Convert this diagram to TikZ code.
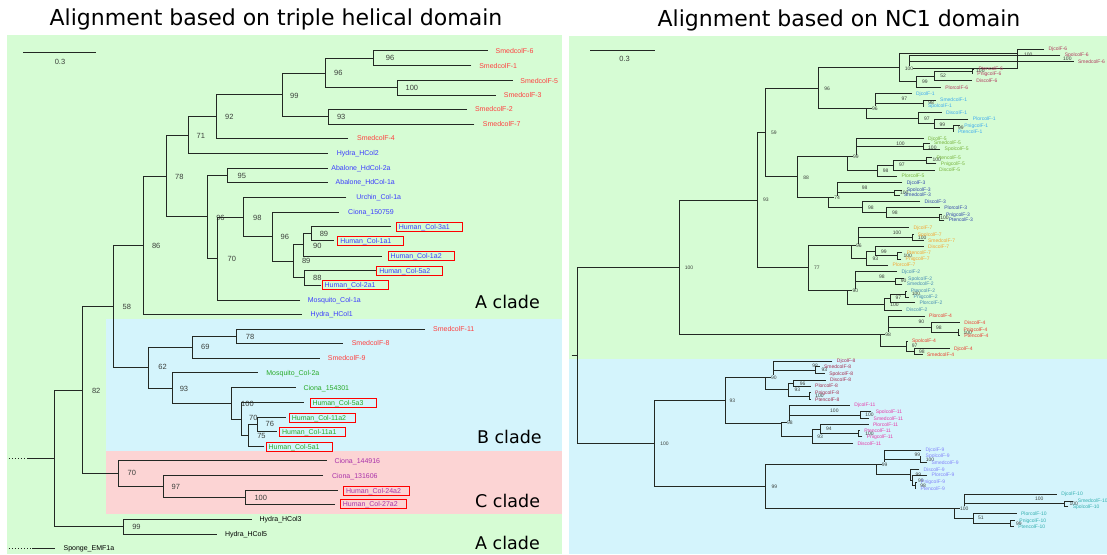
\documentclass[tikz,border=0pt]{standalone}
\usepackage{fontspec}
\setmainfont{Liberation Sans}
\newfontfamily\ttlfont{DejaVu Sans}
\definecolor{bggreen}{RGB}{214,252,212}
\definecolor{bgblue}{RGB}{212,244,252}
\definecolor{bgpink}{RGB}{252,212,212}
\definecolor{lred}{RGB}{255,64,64}
\definecolor{lblue}{RGB}{60,60,255}
\definecolor{lgreen}{RGB}{40,170,40}
\definecolor{lpurple}{RGB}{170,50,170}
\definecolor{brc}{RGB}{35,40,35}
\definecolor{bsc}{RGB}{60,64,60}
\definecolor{cmar}{RGB}{178,60,95}
\definecolor{cA}{RGB}{60,170,240}
\definecolor{cB}{RGB}{120,180,60}
\definecolor{cC}{RGB}{50,70,170}
\definecolor{cD}{RGB}{245,165,50}
\definecolor{cE}{RGB}{70,140,180}
\definecolor{cF}{RGB}{235,60,50}
\definecolor{cG}{RGB}{165,45,80}
\definecolor{cH}{RGB}{230,60,170}
\definecolor{cI}{RGB}{130,130,250}
\definecolor{cJ}{RGB}{50,175,175}
\tikzset{
 br/.style={draw=brc,line width=1pt},
 rbr/.style={draw=brc,line width=0.8pt},
 ll/.style={anchor=west,inner xsep=0pt,inner ysep=0.5pt,font=\fontsize{7}{8}\selectfont,text height=5pt,text depth=0pt},
 hb/.style={draw=red,line width=0.9pt,inner xsep=2.5pt,text width=61pt,align=left,minimum height=9pt},
 bs/.style={anchor=west,inner sep=0pt,font=\fontsize{7.5}{8}\selectfont,text=bsc,text height=5.2pt,text depth=0pt},
 rl/.style={anchor=west,inner xsep=0pt,outer xsep=4.5pt,inner ysep=0.3pt,font=\fontsize{5}{6}\selectfont,text height=3.6pt,text depth=0pt},
 rbs/.style={anchor=west,inner sep=0pt,font=\fontsize{5}{6}\selectfont,text=bsc,text height=3.6pt,text depth=0pt},
 clade/.style={anchor=base west,font=\ttlfont\fontsize{17.5}{20}\selectfont,inner sep=0pt},
 ttl/.style={anchor=base,font=\ttlfont\fontsize{22}{26}\selectfont,inner sep=0pt},
 sbl/.style={inner sep=0pt,font=\fontsize{7.5}{8}\selectfont,text=bsc},
 dotline/.style={draw=brc,line width=1pt,dash pattern=on 1pt off 2pt},
}
\newcommand\myINL[5]{\coordinate (#1) at (#2,#3); \node[bs] (#1b) at (#4) {#5};}
\newcommand\myINR[5]{\coordinate (#1) at (#2,#3); \node[rbs] (#1b) at (#4) {#5};}
\newcommand\myE[2]{\draw[br] (#1) -| (#2);}
\newcommand\myER[2]{\draw[rbr] (#1) -| (#2);}
\newcommand\myLL[6]{\node[ll,outer xsep=#4pt,#5] (#1) at (#2) {#3}; \draw[br] (#1.west) -| (#6);}
\newcommand\myRL[6]{\node[rl,text=#5] (#1) at ({#2-4.5},#3) {#4}; \draw[rbr] (#1.west) -| (#6);}
\begin{document}
\begin{tikzpicture}[x=1pt,y=-1pt]
\useasboundingbox (0,0) rectangle (1107,554);
% backgrounds
\fill[bggreen] (7,35) rectangle (562,554);
\fill[bgblue] (106,319.3) rectangle (562,451);
\fill[bgpink] (106,451) rectangle (562,514.3);
\fill[bggreen] (569,36) rectangle (1107,359);
\fill[bgblue] (569,359) rectangle (1107,554);
% titles
\node[ttl] (t1) at (276,25) {Alignment based on triple helical domain};
\node[ttl] (t2) at (839,26.5) {Alignment based on NC1 domain};
% scale bars
\coordinate (sb1a) at (23.2,52); \coordinate (sb1b) at (96.4,52);
\draw[br] (sb1a) -- (sb1b); \node[sbl] (sb1t) at (60,62) {0.3};
\coordinate (sb2a) at (590,50.7); \coordinate (sb2b) at (655.4,50.7);
\draw[br] (sb2a) -- (sb2b); \node[sbl] (sb2t) at (624.6,59) {0.3};
% clade labels
\node[clade] (ca1) at (475,308.3) {A clade};
\node[clade] (cb) at (476.8,443) {B clade};
\node[clade] (cc) at (475,507.7) {C clade};
\node[clade] (ca2) at (475,549.3) {A clade};
% ---------------- left tree internal nodes
\myINL{a96a}{373.2}{58.2}{385.7,58.3}{96}
\myINL{a100}{397.1}{87.85}{405.4,87.7}{100}
\myINL{a96b}{325.7}{73.0}{334,73.3}{96}
\myINL{a93}{328.6}{116.8}{336.8,116.7}{93}
\myINL{a99}{282.1}{94.9}{290,95.7}{99}
\myINL{a92}{216.8}{116.65}{225,116.7}{92}
\myINL{a71}{188.2}{135.5}{196.4,136}{71}
\myINL{a95}{227.9}{175.3}{237.5,175.7}{95}
\myINL{a89u}{311.8}{233.5}{319.6,234.3}{89}
\myINL{a90}{303.6}{244.75}{312.9,245.7}{90}
\myINL{a88}{304.3}{277.65}{312.9,278.3}{88}
\myINL{a89l}{293.6}{261.2}{301.8,261}{89}
\myINL{a96c}{272.1}{236.75}{280.4,236.7}{96}
\myINL{a98}{243.9}{217}{252.9,217.7}{98}
\myINL{a70}{217.9}{258.5}{227.5,259}{70}
\myINL{a96d}{207.9}{216.9}{216.1,217.7}{96}
\myINL{a78}{166.8}{176.2}{175,176.7}{78}
\myINL{a86}{143.6}{245.25}{151.8,245.7}{86}
\myINL{b78}{236.8}{336.15}{245.7,336.7}{78}
\myINL{b69}{192.9}{347.2}{201,347.3}{69}
\myINL{b76}{257.1}{424.6}{265.4,424.3}{76}
\myINL{b75}{248.2}{435.55}{257.1,435.7}{75}
\myINL{b70}{241.8}{419}{248.9,418.3}{70}
\myINL{b100}{231.4}{403.35}{241,404}{100}
\myINL{b93}{172.1}{388}{179.6,389}{93}
\myINL{b62}{148.9}{367.6}{158.2,367.3}{62}
\myINL{a58}{113.2}{306.4}{122.5,306.7}{58}
\myINL{c100}{245.7}{497.25}{254.3,497.7}{100}
\myINL{c97}{163.2}{486.5}{171.4,486.7}{97}
\myINL{c70}{118.9}{473.6}{127.5,473.3}{70}
\myINL{a82}{82.9}{390}{91.8,390.7}{82}
\myINL{d99}{123.9}{526.65}{132.1,526.7}{99}
\coordinate (rootL) at (54.6,458.3);
% left internal edges
\myE{a96a}{a96b} \myE{a100}{a96b} \myE{a96b}{a99} \myE{a93}{a99}
\myE{a99}{a92} \myE{a92}{a71} \myE{a71}{a78} \myE{a95}{a96d}
\myE{a89u}{a90} \myE{a90}{a89l} \myE{a88}{a89l} \myE{a89l}{a96c}
\myE{a96c}{a98} \myE{a98}{a70} \myE{a70}{a96d} \myE{a96d}{a78}
\myE{a78}{a86} \myE{a86}{a58} \myE{b78}{b69} \myE{b69}{b62}
\myE{b76}{b75} \myE{b75}{b70} \myE{b70}{b100} \myE{b100}{b93}
\myE{b93}{b62} \myE{b62}{a58} \myE{a58}{a82} \myE{c100}{c97}
\myE{c97}{c70} \myE{c70}{a82} \myE{a82}{rootL} \myE{d99}{rootL}
% left leaves
\myLL{s6}{487.5,50.7}{SmedcolF-6}{8.2}{text=lred}{a96a}
\myLL{s1}{471.4,65.7}{SmedcolF-1}{7.9}{text=lred}{a96a}
\myLL{s5}{512.5,80.7}{SmedcolF-5}{7.9}{text=lred}{a100}
\myLL{s3}{495.7,95}{SmedcolF-3}{8.2}{text=lred}{a100}
\myLL{s2}{467.1,109.3}{SmedcolF-2}{7.9}{text=lred}{a93}
\myLL{s7}{474.3,124.3}{SmedcolF-7}{8.6}{text=lred}{a93}
\myLL{s4}{348.2,138.3}{SmedcolF-4}{8.9}{text=lred}{a92}
\myLL{hy2}{327.9,153.3}{Hydra\_HCol2}{8.9}{text=lblue}{a71}
\myLL{ab2}{327.9,168.3}{Abalone\_HdCol-2a}{3.5}{text=lblue}{a95}
\myLL{ab1}{327.9,182.3}{Abalone\_HdCol-1a}{7.8}{text=lblue}{a95}
\myLL{ur}{346.4,197.3}{Urchin\_Col-1a}{10}{text=lblue}{a98}
\myLL{ci150}{338.6,212.3}{Ciona\_150759}{9.6}{text=lblue}{a96c}
\myLL{h3a1}{391.1,226.85}{Human\_Col-3a1}{5.3}{hb,text=lblue}{a89u}
\myLL{h1a1}{333.9,240.85}{Human\_Col-1a1}{4}{hb,text=lblue}{a89u}
\myLL{h1a2}{382.1,256.2}{Human\_Col-1a2}{6.1}{hb,text=lblue}{a90}
\myLL{h5a2}{375.7,270.5}{Human\_Col-5a2}{1.1}{hb,text=lblue}{a88}
\myLL{h2a1}{321.4,285.35}{Human\_Col-2a1}{0.7}{hb,text=lblue}{a88}
\myLL{mo1}{300,300}{Mosquito\_Col-1a}{7.9}{text=lblue}{a70}
\myLL{hy1}{301.8,314.3}{Hydra\_HCol1}{8.9}{text=lblue}{a86}
\myLL{s11}{425,329}{SmedcolF-11}{8.2}{text=lred}{b78}
\myLL{s8}{342.9,343.3}{SmedcolF-8}{8.9}{text=lred}{b78}
\myLL{s9}{319.6,358.3}{SmedcolF-9}{8.3}{text=lred}{b69}
\myLL{mo2}{257.9,372.7}{Mosquito\_Col-2a}{8.5}{text=lgreen}{b93}
\myLL{ci154}{295.7,387.7}{Ciona\_154301}{7.9}{text=lgreen}{b100}
\myLL{h5a3}{303.6,402.5}{Human\_Col-5a3}{6.4}{hb,text=lgreen}{b70}
\myLL{h11a2}{285.7,417.5}{Human\_Col-11a2}{3.6}{hb,text=lgreen}{b76}
\myLL{h11a1}{276.8,431.7}{Human\_Col-11a1}{2.8}{hb,text=lgreen}{b76}
\myLL{h5a1}{264.3,446.5}{Human\_Col-5a1}{1.8}{hb,text=lgreen}{b75}
\myLL{ci144}{326.8,460.7}{Ciona\_144916}{7.8}{text=lpurple}{c70}
\myLL{ci131}{323.2,475.7}{Ciona\_131606}{8.9}{text=lpurple}{c97}
\myLL{h24}{337.5,490.5}{Human\_Col-24a2}{6.1}{hb,text=lpurple}{c100}
\myLL{h27}{335,504}{Human\_Col-27a2}{5.4}{hb,text=lpurple}{c100}
\myLL{hc3}{251.8,519.3}{Hydra\_HCol3}{7.8}{text=black}{d99}
\myLL{hc5}{216.8,534}{Hydra\_HCol5}{8.2}{text=black}{d99}
% root stub and sponge
\coordinate (rs0) at (8.9,458.3); \coordinate (rs1) at (26.8,458.3);
\draw[dotline] (rs0) -- (rs1); \draw[br] (rs1) -- (rootL);
\node[ll,outer xsep=8.2pt,text=black] (sponge) at (55.4,548.3) {Sponge\_EMF1a};
\coordinate (sp0) at (8.9,548.3); \coordinate (sp1) at (32.1,548.3);
\draw[dotline] (sp0) -- (sp1); \draw[br] (sp1) -- (sponge.west);
% ---------------- right tree internal nodes
\myINR{c6b}{1058}{58.35}{1063,58.3}{100}
\myINR{c6a}{1017.7}{53.65}{1023.8,54.3}{100}
\myINR{c6e}{972.2}{71.15}{976,71}{100}
\myINR{c6d}{934.3}{75.9}{940.2,76}{52}
\myINR{c6c}{916.8}{81.8}{922,81.7}{99}
\myINR{c6}{899.5}{67.7}{904.7,68.3}{100}
\myINR{c1c}{923}{103}{928.1,103}{98}
\myINR{c1b}{896.1}{98.15}{901.3,98.3}{97}
\myINR{c1f}{952.9}{128.6}{958,128}{99}
\myINR{c1e}{934.3}{123.8}{939.5,124.3}{99}
\myINR{c1d}{918.8}{118.05}{924,118.3}{97}
\myINR{c1}{866.1}{108.1}{872,108.3}{96}
\myINR{r96}{818.6}{87.9}{824.1,88.3}{96}
\myINR{c5c}{923}{146}{928,147.3}{100}
\myINR{c5b}{891}{142.15}{896.1,143.3}{100}
\myINR{c5f}{926.4}{160.3}{932.3,160}{100}
\myINR{c5e}{893.7}{165.15}{898.9,165}{97}
\myINR{c5d}{877.5}{170.6}{882.7,170.7}{98}
\myINR{c5}{847.2}{156.4}{853,156.7}{99}
\myINR{c3c}{894.4}{192.5}{899.9,192.7}{100}
\myINR{c3b}{856.5}{187.4}{861.7,187.3}{98}
\myINR{c3f}{939.5}{217.15}{940.2,217.7}{100}
\myINR{c3e}{886.8}{212.4}{892,212.7}{98}
\myINR{c3d}{862.7}{207.05}{867.9,207.3}{98}
\myINR{c3}{828.3}{197.2}{834.1,197.7}{74}
\myINR{r88}{797.3}{176.8}{803.1,177.3}{88}
\myINR{r59}{765.2}{132.35}{770.8,132.3}{59}
\myINR{c7c}{912.6}{237.3}{917.8,237.3}{100}
\myINR{c7b}{886.8}{232.3}{892.7,232.3}{100}
\myINR{c7f}{897.8}{255.65}{903.3,256}{100}
\myINR{c7e}{875.8}{251.2}{881,251.7}{99}
\myINR{c7d}{866.8}{258.1}{872.3,258.3}{93}
\myINR{c7}{851.3}{245.2}{855.8,245.7}{96}
\myINR{c2c}{895.4}{281.15}{900.6,281}{90}
\myINR{c2b}{873.7}{276.4}{878.9,276.3}{98}
\myINR{c2f}{905.7}{294}{911.6,294}{100}
\myINR{c2e}{890.2}{298.35}{895.4,298}{97}
\myINR{c2d}{884.4}{304.2}{890.2,304.3}{100}
\myINR{c2}{847.2}{290.3}{852.4,290.7}{90}
\myINR{r77}{808.3}{267.75}{813.8,267.3}{77}
\myINR{r93}{757.7}{200}{762.8,200}{93}
\myINR{c4d}{958.1}{332.3}{963.3,332.7}{100}
\myINR{c4c}{930.9}{327.3}{936,327.3}{98}
\myINR{c4b}{913.3}{321.65}{918.5,321.7}{90}
\myINR{c4f}{914.4}{351.3}{918.8,351.3}{98}
\myINR{c4e}{906.4}{346.15}{911.6,345.3}{97}
\myINR{c4}{879.9}{333.9}{885.1,334.3}{98}
\myINR{r100}{679.2}{267}{684.7,267.3}{100}
\myINR{c8c}{815.5}{370}{821.4,370}{93}
\myINR{c8b}{806.6}{365.5}{812.1,365.3}{98}
\myINR{c8e}{793.8}{383}{799.7,383.7}{96}
\myINR{c8f}{809.3}{396}{815.2,396}{100}
\myINR{c8d}{788.7}{389.5}{794.5,389.3}{93}
\myINR{c8}{765.2}{377.5}{770.8,377.3}{90}
\myINR{c11c}{860.3}{415}{865.1,415}{100}
\myINR{c11b}{823.8}{410}{830,410.3}{100}
\myINR{c11f}{858.2}{433.7}{865.1,434}{100}
\myINR{c11e}{820.3}{429}{825.9,429}{94}
\myINR{c11d}{812.1}{436.15}{817.2,436.7}{93}
\myINR{c11}{781.1}{423.1}{786.9,422.7}{98}
\myINR{b93r}{725}{400.3}{729.4,400.7}{93}
\myINR{c9c}{920.2}{459.35}{925.7,459.3}{100}
\myINR{c9b}{909.2}{454.7}{914.4,454.3}{99}
\myINR{c9f}{915.4}{485.15}{920.2,485.3}{98}
\myINR{c9e}{912.6}{480.1}{917.8,480.7}{99}
\myINR{c9d}{909.9}{474.7}{915.4,475}{99}
\myINR{c9}{876.5}{464.85}{881.6,464.3}{99}
\myINR{c10c}{1064.1}{503.85}{1069.3,504}{100}
\myINR{c10b}{1029.7}{498.9}{1034.9,498.7}{100}
\myINR{c10e}{1010.8}{523.6}{1015.9,523.3}{99}
\myINR{c10d}{972.9}{518.45}{978,518}{51}
\myINR{c10}{954}{508.7}{959.8,508.3}{100}
\myINR{b99r}{765.6}{486.8}{771.4,486.7}{99}
\myINR{b100r}{654.4}{443.55}{660.2,443.3}{100}
\coordinate (rroot) at (576.9,355.3);
\coordinate (rstub) at (571.7,355.3);
% right internal edges
\myER{c6b}{c6a} \myER{c6a}{c6} \myER{c6e}{c6d} \myER{c6d}{c6c} \myER{c6c}{c6} \myER{c6}{r96}
\myER{c1c}{c1b} \myER{c1b}{c1} \myER{c1f}{c1e} \myER{c1e}{c1d} \myER{c1d}{c1} \myER{c1}{r96}
\myER{r96}{r59}
\myER{c5c}{c5b} \myER{c5b}{c5} \myER{c5f}{c5e} \myER{c5e}{c5d} \myER{c5d}{c5} \myER{c5}{r88}
\myER{c3c}{c3b} \myER{c3b}{c3} \myER{c3f}{c3e} \myER{c3e}{c3d} \myER{c3d}{c3} \myER{c3}{r88}
\myER{r88}{r59} \myER{r59}{r93}
\myER{c7c}{c7b} \myER{c7b}{c7} \myER{c7f}{c7e} \myER{c7e}{c7d} \myER{c7d}{c7} \myER{c7}{r77}
\myER{c2c}{c2b} \myER{c2b}{c2} \myER{c2f}{c2e} \myER{c2e}{c2d} \myER{c2d}{c2} \myER{c2}{r77}
\myER{r77}{r93} \myER{r93}{r100}
\myER{c4d}{c4c} \myER{c4c}{c4b} \myER{c4b}{c4} \myER{c4f}{c4e} \myER{c4e}{c4} \myER{c4}{r100}
\myER{r100}{rroot}
\myER{c8c}{c8b} \myER{c8b}{c8} \myER{c8e}{c8d} \myER{c8f}{c8d} \myER{c8d}{c8} \myER{c8}{b93r}
\myER{c11c}{c11b} \myER{c11b}{c11} \myER{c11f}{c11e} \myER{c11e}{c11d} \myER{c11d}{c11} \myER{c11}{b93r}
\myER{b93r}{b100r}
\myER{c9c}{c9b} \myER{c9b}{c9} \myER{c9f}{c9e} \myER{c9e}{c9d} \myER{c9d}{c9} \myER{c9}{b99r}
\myER{c10c}{c10b} \myER{c10b}{c10} \myER{c10e}{c10d} \myER{c10d}{c10} \myER{c10}{b99r}
\myER{b99r}{b100r} \myER{b100r}{rroot}
\draw[rbr] (rstub) -- (rroot);
% right leaves
\myRL{dj6}{1048.6}{49}{DjcolF-6}{cmar}{c6a}
\myRL{sp6}{1064.8}{55}{SpolcolF-6}{cmar}{c6b}
\myRL{sm6}{1078}{61.7}{SmedcolF-6}{cmar}{c6b}
\myRL{pt6}{978.7}{69}{PtencolF-6}{cmar}{c6e}
\myRL{pn6}{977.4}{73.3}{PnigcolF-6}{cmar}{c6e}
\myRL{di6}{976.3}{80.7}{DiscolF-6}{cmar}{c6d}
\myRL{pl6}{945.3}{87.7}{PlorcolF-6}{cmar}{c6c}
\myRL{dj1}{916.1}{93.3}{DjcolF-1}{cA}{c1b}
\myRL{sm1}{940.2}{100}{SmedcolF-1}{cA}{c1c}
\myRL{sp1}{928.1}{106}{SpolcolF-1}{cA}{c1c}
\myRL{di1}{946}{112.3}{DiscolF-1}{cA}{c1d}
\myRL{pl1}{972.9}{119}{PlorcolF-1}{cA}{c1e}
\myRL{pn1}{964.3}{125.7}{PnigcolF-1}{cA}{c1f}
\myRL{pt1}{958.1}{131.5}{PtencolF-1}{cA}{c1f}
\myRL{dj5}{928.1}{138.3}{DjcolF-5}{cB}{c5b}
\myRL{sm5}{934}{143}{SmedcolF-5}{cB}{c5c}
\myRL{sp5}{944.7}{149}{SpolcolF-5}{cB}{c5c}
\myRL{pt5}{936.7}{157.3}{PtencolF-5}{cB}{c5f}
\myRL{pn5}{940.9}{163.3}{PnigcolF-5}{cB}{c5f}
\myRL{di5}{939.1}{170}{DiscolF-5}{cB}{c5e}
\myRL{pl5}{901.6}{176}{PlorcolF-5}{cB}{c5d}
\myRL{dj3}{906.8}{182.3}{DjcolF-3}{cC}{c3b}
\myRL{sp3}{906.8}{190}{SpolcolF-3}{cC}{c3c}
\myRL{sm3}{904}{195}{SmedcolF-3}{cC}{c3c}
\myRL{di3}{924.7}{201.7}{DiscolF-3}{cC}{c3d}
\myRL{pl3}{944.3}{207.7}{PlorcolF-3}{cC}{c3e}
\myRL{pn3}{946}{214.3}{PnigcolF-3}{cC}{c3f}
\myRL{pt3}{948.8}{220}{PtencolF-3}{cC}{c3f}
\myRL{dj7}{913.7}{227.3}{DjcolF-7}{cD}{c7b}
\myRL{sp7}{917.8}{234.3}{SpolcolF-7}{cD}{c7c}
\myRL{sm7}{928.1}{240.3}{SmedcolF-7}{cD}{c7c}
\myRL{di7}{928.1}{246.7}{DiscolF-7}{cD}{c7e}
\myRL{pt7}{906.8}{252.3}{PtencolF-7}{cD}{c7f}
\myRL{pn7}{905.7}{259}{PnigcolF-7}{cD}{c7f}
\myRL{pl7}{892.7}{265}{PlorcolF-7}{cD}{c7d}
\myRL{dj2}{901.6}{271.7}{DjcolF-2}{cE}{c2b}
\myRL{sp2}{908.2}{278.3}{SpolcolF-2}{cE}{c2c}
\myRL{sm2}{906.8}{284}{SmedcolF-2}{cE}{c2c}
\myRL{pt2}{910.9}{291}{PtencolF-2}{cE}{c2f}
\myRL{pn2}{913.7}{297}{PnigcolF-2}{cE}{c2f}
\myRL{pl2}{919.5}{302.7}{PlorcolF-2}{cE}{c2e}
\myRL{di2}{906.4}{310}{DiscolF-2}{cE}{c2d}
\myRL{pl4}{929.2}{316}{PlorcolF-4}{cF}{c4b}
\myRL{di4}{964.3}{322.3}{DiscolF-4}{cF}{c4c}
\myRL{pn4}{963.5}{329.3}{PnigcolF-4}{cF}{c4d}
\myRL{pt4}{964.3}{335.3}{PtencolF-4}{cF}{c4d}
\myRL{sp4}{912}{341}{SpolcolF-4}{cF}{c4e}
\myRL{dj4}{954}{348.3}{DjcolF-4}{cF}{c4f}
\myRL{sm4}{927.1}{354.3}{SmedcolF-4}{cF}{c4f}
\myRL{dj8}{836.9}{361}{DjcolF-8}{cG}{c8b}
\myRL{sm8}{824.1}{366.7}{SmedcolF-8}{cG}{c8c}
\myRL{sp8}{829.3}{373.3}{SpolcolF-8}{cG}{c8c}
\myRL{di8}{830}{380}{DiscolF-8}{cG}{c8e}
\myRL{pl8}{815.2}{386}{PlorcolF-8}{cG}{c8e}
\myRL{pn8}{815.2}{392.7}{PnigcolF-8}{cG}{c8f}
\myRL{pt8}{815.2}{399.3}{PtencolF-8}{cG}{c8f}
\myRL{dj11}{854.4}{405}{DjcolF-11}{cH}{c11b}
\myRL{sp11}{875.8}{411.7}{SpolcolF-11}{cH}{c11c}
\myRL{sm11}{873.7}{418.3}{SmedcolF-11}{cH}{c11c}
\myRL{pl11}{873}{424.3}{PlorcolF-11}{cH}{c11e}
\myRL{pt11}{864.4}{430.7}{PtencolF-11}{cH}{c11f}
\myRL{pn11}{866.8}{436.7}{PnigcolF-11}{cH}{c11f}
\myRL{di11}{857.5}{443.3}{DiscolF-11}{cH}{c11d}
\myRL{dj9}{925.7}{450}{DjcolF-9}{cI}{c9b}
\myRL{sp9}{925.7}{456}{SpolcolF-9}{cI}{c9c}
\myRL{sm9}{931.6}{462.7}{SmedcolF-9}{cI}{c9c}
\myRL{di9}{923.6}{469.3}{DiscolF-9}{cI}{c9d}
\myRL{pl9}{931.6}{475}{PlorcolF-9}{cI}{c9e}
\myRL{pn9}{921.2}{482}{PnigcolF-9}{cI}{c9f}
\myRL{pt9}{920.6}{488.3}{PtencolF-9}{cI}{c9f}
\myRL{dj10}{1061.4}{494}{DjcolF-10}{cJ}{c10b}
\myRL{sm10}{1077.9}{501}{SmedcolF-10}{cJ}{c10c}
\myRL{sp10}{1072.8}{506.7}{SpolcolF-10}{cJ}{c10c}
\myRL{pl10}{1021.1}{513.3}{PlorcolF-10}{cJ}{c10d}
\myRL{pn10}{1019.4}{520.7}{PnigcolF-10}{cJ}{c10e}
\myRL{pt10}{1018.3}{526.5}{PtencolF-10}{cJ}{c10e}
\end{tikzpicture}
\end{document}
